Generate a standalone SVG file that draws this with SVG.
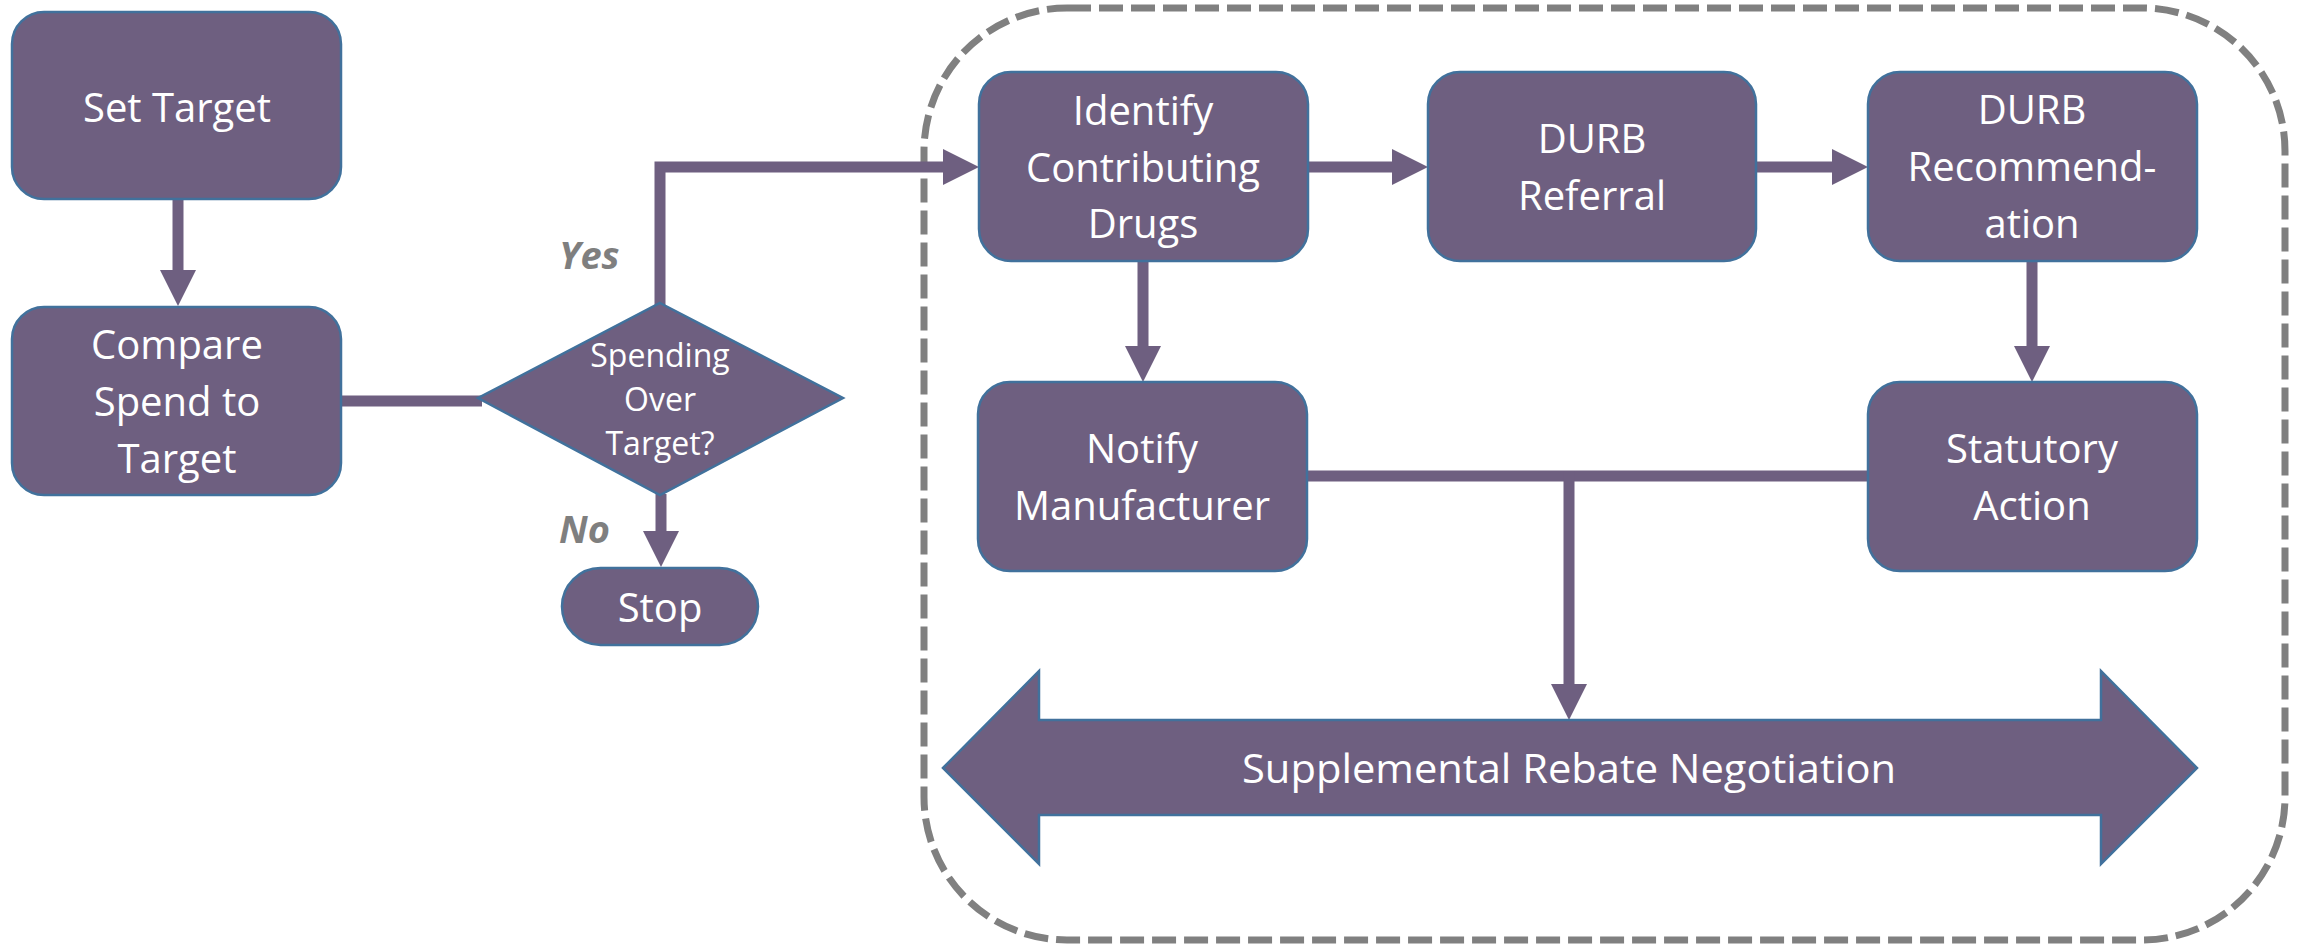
<svg xmlns="http://www.w3.org/2000/svg" width="2305" height="948" viewBox="0 0 2305 948">
<style>
.box{fill:#6E5F80;stroke:#41719C;stroke-width:2.5}
.t{font-family:"Open Sans","Liberation Sans",sans-serif;font-size:40px;fill:#FFFFFF;text-anchor:middle}
.ts{font-size:32px}
.lbl{font-family:"Open Sans","Liberation Sans",sans-serif;font-size:38px;font-weight:bold;font-style:italic;fill:#7F7F7F}
.con{fill:none;stroke:#6E5F80;stroke-width:11}
</style>
<defs>
<marker id="ah" markerUnits="userSpaceOnUse" markerWidth="36" markerHeight="36" refX="6" refY="18" orient="auto" viewBox="0 0 36 36">
<path d="M0,0 L36,18 L0,36 Z" fill="#6E5F80"/>
</marker>
</defs>
<rect id="container" x="924" y="8" width="1361" height="932" rx="143" ry="143" fill="none" stroke="#808080" stroke-width="7" stroke-dasharray="24 8"/>
<g id="connectors">
<line class="con" x1="178" y1="199" x2="178" y2="276" marker-end="url(#ah)"/>
<line class="con" x1="341" y1="401" x2="482" y2="401"/>
<path class="con" d="M660,305 V167 H949" marker-end="url(#ah)"/>
<line class="con" x1="661" y1="494" x2="661" y2="537" marker-end="url(#ah)"/>
<line class="con" x1="1307" y1="167" x2="1398" y2="167" marker-end="url(#ah)"/>
<line class="con" x1="1755" y1="167" x2="1838" y2="167" marker-end="url(#ah)"/>
<line class="con" x1="1143" y1="260" x2="1143" y2="352" marker-end="url(#ah)"/>
<line class="con" x1="2032" y1="260" x2="2032" y2="352" marker-end="url(#ah)"/>
<line class="con" x1="1307" y1="476" x2="1868" y2="476"/>
<line class="con" x1="1569" y1="471" x2="1569" y2="690" marker-end="url(#ah)"/>
</g>
<g id="set-target">
<rect class="box" x="12" y="12" width="329" height="187" rx="32"/>
<text class="t" x="177" y="122">Set Target</text>
</g>
<g id="compare">
<rect class="box" x="12" y="307" width="329" height="188" rx="32"/>
<text class="t" x="177" y="359">Compare</text>
<text class="t" x="177" y="416">Spend to</text>
<text class="t" x="177" y="473">Target</text>
</g>
<g id="decision">
<polygon class="box" points="660,303 843,398 660,495 478,398"/>
<text class="t ts" x="660" y="367">Spending</text>
<text class="t ts" x="660" y="411">Over</text>
<text class="t ts" x="660" y="455">Target?</text>
</g>
<g id="yes-label"><text class="lbl" x="559" y="269">Yes</text></g>
<g id="no-label"><text class="lbl" x="559" y="543">No</text></g>
<g id="stop">
<rect class="box" x="562" y="568" width="196" height="77" rx="38.5"/>
<text class="t" x="660" y="622">Stop</text>
</g>
<g id="identify">
<rect class="box" x="979" y="72" width="329" height="189" rx="32"/>
<text class="t" x="1143" y="125">Identify</text>
<text class="t" x="1143" y="182">Contributing</text>
<text class="t" x="1143" y="238">Drugs</text>
</g>
<g id="durb-referral">
<rect class="box" x="1428" y="72" width="328" height="189" rx="32"/>
<text class="t" x="1592" y="153">DURB</text>
<text class="t" x="1592" y="210">Referral</text>
</g>
<g id="durb-recommendation">
<rect class="box" x="1868" y="72" width="329" height="189" rx="32"/>
<text class="t" x="2032" y="124">DURB</text>
<text class="t" x="2032" y="181">Recommend-</text>
<text class="t" x="2032" y="238">ation</text>
</g>
<g id="notify">
<rect class="box" x="978" y="382" width="329" height="189" rx="32"/>
<text class="t" x="1142" y="463">Notify</text>
<text class="t" x="1142" y="520">Manufacturer</text>
</g>
<g id="statutory">
<rect class="box" x="1868" y="382" width="329" height="189" rx="32"/>
<text class="t" x="2032" y="463">Statutory</text>
<text class="t" x="2032" y="520">Action</text>
</g>
<g id="supplemental">
<polygon class="box" points="943,768 1039,671 1039,720 2101,720 2101,671 2197,768 2101,864 2101,815 1039,815 1039,864"/>
<text class="t" x="1569" y="783" textLength="654" lengthAdjust="spacingAndGlyphs">Supplemental Rebate Negotiation</text>
</g>
</svg>
